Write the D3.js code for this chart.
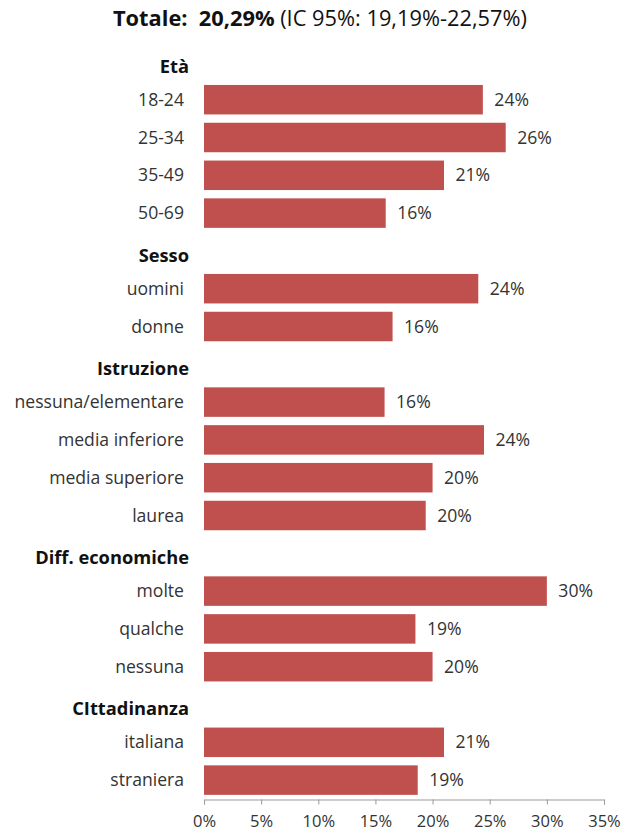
<!DOCTYPE html>
<html>
<head>
<meta charset="utf-8">
<script src="https://cdn.jsdelivr.net/npm/d3@7"></script>
<style>
  html, body { margin: 0; padding: 0; background: #fff; }
  svg { display: block; }
  text { font-family: "Open Sans", Lato, sans-serif; }
</style>
</head>
<body>
<script>
// ---- data ----
const rows = [
  "Età", "18-24", "25-34", "35-49", "50-69",
  "Sesso", "uomini", "donne",
  "Istruzione", "nessuna/elementare", "media inferiore", "media superiore", "laurea",
  "Diff. economiche", "molte", "qualche", "nessuna ",
  "CIttadinanza", "italiana", "straniera"
];
const headings = ["Età", "Sesso", "Istruzione", "Diff. economiche", "CIttadinanza"];
const categories = [
  "18-24", "25-34", "35-49", "50-69",
  "uomini", "donne",
  "nessuna/elementare", "media inferiore", "media superiore", "laurea",
  "molte", "qualche", "nessuna ",
  "italiana", "straniera"
];
const values = [24.4, 26.4, 21.0, 15.9, 24.0, 16.5, 15.8, 24.5, 20.0, 19.4, 30.0, 18.5, 20.0, 21.0, 18.7];
const valueLabels = ["24%", "26%", "21%", "16%", "24%", "16%", "16%", "24%", "20%", "20%", "30%", "19%", "20%", "21%", "19%"];
const tickValues = [0, 5, 10, 15, 20, 25, 30, 35];
const titleBold = "Totale:  20,29%";
const titleRest = " (IC 95%: 19,19%-22,57%)";

// ---- layout ----
const W = 621, H = 832;
const svg = d3.select("body").append("svg").attr("width", W).attr("height", H);

const x = d3.scaleLinear().domain([0, 35]).range([204, 604]);
const y = d3.scaleBand().domain(rows).range([43, 799]).paddingInner(0.22).paddingOuter(0.11);

const textColor = "#333333";

// title
const title = svg.append("text")
  .attr("x", 113).attr("y", 26)
  .attr("font-size", 21.8)
  .attr("fill", "#111")
  .attr("xml:space", "preserve")
  .style("white-space", "pre");
title.append("tspan").attr("font-weight", "bold").text(titleBold);
title.append("tspan").text(titleRest);

// headings
svg.append("g").selectAll("text").data(headings).join("text")
  .attr("x", 189)
  .attr("y", d => y(d) + y.bandwidth() / 2 + 4.5)
  .attr("dy", "0.35em")
  .attr("text-anchor", "end")
  .attr("font-weight", "bold")
  .attr("font-size", 18.3)
  .attr("fill", "#111")
  .text(d => d);

// category labels
svg.append("g").selectAll("text").data(categories).join("text")
  .attr("x", 184)
  .attr("y", d => y(d) + y.bandwidth() / 2)
  .attr("dy", "0.35em")
  .attr("text-anchor", "end")
  .attr("font-size", 17.6)
  .attr("fill", textColor)
  .text(d => d.trim());

// bars
svg.append("g").selectAll("rect").data(categories).join("rect")
  .attr("x", x(0))
  .attr("y", d => y(d))
  .attr("width", (d, i) => x(values[i]) - x(0))
  .attr("height", y.bandwidth())
  .attr("fill", "#C0504D");

// value labels
svg.append("g").selectAll("text").data(categories).join("text")
  .attr("x", (d, i) => x(values[i]) + 11.5)
  .attr("y", d => y(d) + y.bandwidth() / 2)
  .attr("dy", "0.35em")
  .attr("font-size", 17.6)
  .attr("fill", textColor)
  .text((d, i) => valueLabels[i]);

// axis
const axis = svg.append("g")
  .attr("transform", "translate(0,799.5)")
  .call(d3.axisBottom(x).tickValues(tickValues).tickSize(5).tickPadding(11).tickFormat(d => d + "%"));
axis.select(".domain").attr("stroke", "#999");
axis.selectAll(".tick line").attr("stroke", "#999");
axis.selectAll(".tick text").attr("font-size", 16.5).attr("fill", textColor).attr("font-family", "'Open Sans', sans-serif");
</script>
</body>
</html>
